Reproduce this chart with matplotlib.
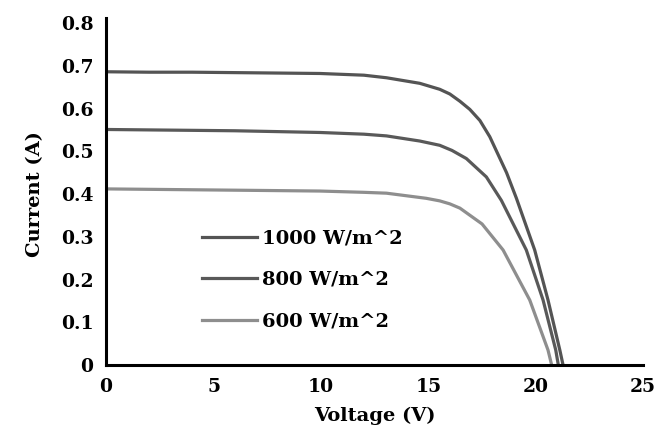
import matplotlib.pyplot as plt

# I-V curves
v_1000 = [0, 2, 4, 6, 8, 9.95, 12, 13.05, 14.6, 15.53, 16.0, 16.47, 16.93, 17.4, 17.86,
          18.64, 19.1, 19.95, 20.57, 21.12, 21.27]
i_1000 = [0.686, 0.685, 0.685, 0.684, 0.683, 0.682, 0.678, 0.672, 0.659, 0.645, 0.634, 0.617, 0.598, 0.572, 0.534,
          0.450, 0.390, 0.269, 0.152, 0.035, 0.0]

v_800 = [0, 2, 4, 6, 8, 9.95, 12, 13.05, 14.6, 15.53, 16.1, 16.77, 17.7, 18.4, 19.56, 20.34, 20.93, 21.05]
i_800 = [0.551, 0.550, 0.549, 0.548, 0.546, 0.544, 0.540, 0.536, 0.524, 0.514, 0.502, 0.483, 0.440, 0.385, 0.269,
         0.152, 0.035, 0.0]

v_600 = [0, 2, 4, 6, 8, 9.95, 12, 13.05, 14.9, 15.53, 16.0, 16.47, 17.5, 18.48, 19.72, 20.57, 20.74]
i_600 = [0.412, 0.411, 0.410, 0.409, 0.408, 0.407, 0.404, 0.402, 0.390, 0.384, 0.377, 0.367, 0.330, 0.269, 0.152,
         0.035, 0.0]

labels = ["1000 W/m^2", "800 W/m^2", "600 W/m^2"]
x_ticks = [0, 5, 10, 15, 20, 25]
y_ticks = [0, 0.1, 0.2, 0.3, 0.4, 0.5, 0.6, 0.7, 0.8]

plt.rcParams['font.family'] = ['DejaVu Serif']
plt.rcParams['font.weight'] = 'bold'

fig = plt.figure(figsize=(6.59, 4.43), dpi=100)
ax = fig.add_axes([0.161, 0.176, 0.815, 0.772])

ax.plot(v_1000, i_1000, color='#545454', lw=2.3, label=labels[0], solid_joinstyle='round')
ax.plot(v_800, i_800, color='#595959', lw=2.3, label=labels[1], solid_joinstyle='round')
ax.plot(v_600, i_600, color='#8e8e8e', lw=2.3, label=labels[2], solid_joinstyle='round')

ax.set_xlim(0, 25)
ax.set_ylim(0, 0.8)
ax.set_xticks(x_ticks)
ax.set_xticklabels([str(t) for t in x_ticks])
ax.set_yticks(y_ticks)
ax.set_yticklabels(['0' if t == 0 else f'{t:.1f}' for t in y_ticks])
ax.tick_params(length=0, labelsize=13.5, pad=9)

for side in ['top', 'right']:
    ax.spines[side].set_visible(False)
for side in ['left', 'bottom']:
    ax.spines[side].set_linewidth(2.2)
    ax.spines[side].set_color('black')
ax.spines['left'].set_bounds(0, 0.812)

ax.set_xlabel('Voltage (V)', fontsize=14, fontweight='bold', labelpad=8)
ax.set_ylabel('Current (A)', fontsize=14, fontweight='bold', labelpad=12)

ax.legend(loc='center left', bbox_to_anchor=(202 / 659, 1 - 280 / 443),
          bbox_transform=fig.transFigure, frameon=False, borderpad=0,
          borderaxespad=0, handlelength=2.85, handletextpad=0.25,
          labelspacing=1.2, prop={'size': 14, 'weight': 'bold'})

fig.savefig('out.png', dpi=100)
